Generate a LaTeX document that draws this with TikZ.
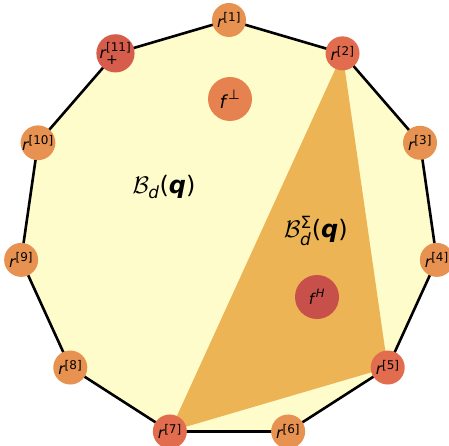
\RequirePackage{fix-cm}
\documentclass[tikz,border=0pt]{standalone}
\usepackage{amsmath}
\usepackage{fontspec}
\setmainfont{DejaVu Sans}
\newcommand{\ts}[2]{\text{\fontsize{#1}{#1}\selectfont#2}}
\newcommand{\rlab}[1]{$\text{\itshape r}^{\ts{12}{[#1]}}$}
\definecolor{polyY}{RGB}{255,252,204}
\definecolor{triO}{RGB}{236,180,84}
\definecolor{vOr}{RGB}{232,146,82}
\definecolor{vRd}{RGB}{225,108,78}
\definecolor{vRdd}{RGB}{214,92,76}
\definecolor{fPerp}{RGB}{230,130,80}
\definecolor{fHc}{RGB}{200,80,75}
\begin{document}
\begin{tikzpicture}[x=1pt,y=-1pt,
  vert/.style={circle,minimum size=34pt,inner sep=0pt,font=\fontsize{15.5}{17}\selectfont},
  fnode/.style={circle,minimum size=44pt,inner sep=0pt,font=\fontsize{18}{20}\selectfont},
  edge/.style={line width=2.6pt,line join=round,black},
  region/.style={font=\fontsize{24}{28}\selectfont}]
\useasboundingbox (0,0) rectangle (449,446);
\foreach \k in {1,...,11}
  \coordinate (p\k) at ({229+210*cos(90-360*(\k-1)/11)}, {230-210*sin(90-360*(\k-1)/11)});
\fill[polyY] (p1) -- (p2) -- (p3) -- (p4) -- (p5) -- (p6) -- (p7) -- (p8) -- (p9) -- (p10) -- (p11) -- cycle;
\fill[triO] (p2) -- (p5) -- (p7) -- cycle;
\draw[edge] (p1) -- (p2) -- (p3) -- (p4) -- (p5) -- (p6) -- (p7) -- (p8) -- (p9) -- (p10) -- (p11) -- cycle;
\node[vert,fill=vOr] (r1) at (p1) {\rlab{1}};
\node[vert,fill=vRd] (r2) at (p2) {\rlab{2}};
\node[vert,fill=vOr] (r3) at (p3) {\rlab{3}};
\node[vert,fill=vOr] (r4) at (p4) {\rlab{4}};
\node[vert,fill=vRd] (r5) at (p5) {\rlab{5}};
\node[vert,fill=vOr] (r6) at (p6) {\rlab{6}};
\node[vert,fill=vRd] (r7) at (p7) {\rlab{7}};
\node[vert,fill=vOr] (r8) at (p8) {\rlab{8}};
\node[vert,fill=vOr] (r9) at (p9) {\rlab{9}};
\node[vert,fill=vOr] (r10) at (p10) {\rlab{10}};
\node[vert,fill=vRdd] (r11) at (p11) {$\text{\itshape r}^{\ts{12}{[11]}}_{\ts{14}{+}}$};
\node[fnode,fill=fPerp] (fperp) at (230,99) {$\text{\itshape f}^{\,\ts{13.5}{⊥}}$};
\node[fnode,fill=fHc] (fH) at (317,297) {\fontsize{15}{17}\selectfont$\text{\itshape f}^{\,\ts{11.5}{\itshape H}}$};
\node[region] (Bd) at (164,187) {$\mathcal{B}_{\text{\itshape d}}$(\textbf{\textit{q}})};
\node[region] (BdS) at (316,231) {$\mathcal{B}^{\text{Σ}}_{\text{\itshape d}}$(\textbf{\textit{q}})};
\end{tikzpicture}
\end{document}
